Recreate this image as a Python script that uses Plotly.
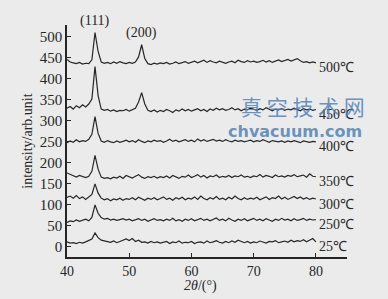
import plotly.graph_objects as go

two_theta = [40 + 0.5 * i for i in range(81)]

labels = ["25℃", "250℃", "300℃", "350℃", "400℃", "450℃", "500℃"]

t25 = [12, 9, 10, 8, 11, 9, 12, 15, 19, 33,
       22, 16, 14, 12, 11, 14, 10, 13, 16, 19,
       15, 20, 13, 16, 11, 12, 9, 13, 10, 12,
       9, 11, 13, 8, 12, 10, 14, 9, 11, 10,
       13, 8, 11, 12, 9, 14, 10, 12, 15, 11,
       9, 13, 10, 14, 11, 16, 12, 10, 13, 9,
       12, 10, 14, 11, 9, 13, 12, 15, 10, 12,
       14, 11, 16, 12, 15, 13, 17, 12, 16, 20,
       12]
t250 = [58, 62, 60, 64, 61, 63, 66, 62, 70, 100,
        80, 70, 66, 68, 64, 66, 63, 65, 67, 64,
        66, 62, 65, 67, 63, 66, 61, 64, 67, 63,
        65, 62, 66, 63, 68, 62, 65, 61, 66, 63,
        67, 62, 65, 68, 63, 66, 62, 65, 69, 63,
        66, 62, 68, 64, 61, 66, 63, 67, 62, 65,
        68, 63, 66, 62, 67, 64, 61, 66, 63, 68,
        64, 66, 62, 67, 63, 65, 68, 63, 66, 64,
        65]
t300 = [118, 121, 116, 122, 115, 119, 113, 118, 125, 150,
        128, 116, 112, 115, 110, 114, 112, 116, 111, 115,
        113, 117, 112, 118, 114, 111, 116, 113, 117, 112,
        115, 119, 113, 116, 111, 117, 114, 118, 112, 116,
        114, 119, 113, 121, 115, 112, 117, 114, 120, 113,
        116, 112, 118, 114, 121, 115, 112, 117, 113, 116,
        114, 118, 112, 116, 119, 113, 117, 115, 121, 114,
        118, 113, 116, 120, 115, 119, 114, 117, 113, 116,
        114]
t350 = [176, 172, 168, 166, 170, 167, 165, 168, 180, 218,
        185, 166, 163, 165, 162, 166, 164, 168, 163, 170,
        166, 164, 168, 172, 166, 163, 167, 165, 168, 164,
        167, 165, 169, 164, 170, 166, 163, 168, 166, 171,
        165, 168, 172, 166, 170, 164, 169, 167, 171, 165,
        168, 166, 170, 165, 169, 167, 171, 166, 168, 165,
        169, 167, 172, 166, 170, 168, 165, 171, 167, 169,
        166, 170, 168, 172, 167, 169, 171, 166, 174, 168,
        167]
t400 = [248, 252, 249, 255, 250, 253, 251, 256, 268, 310,
        270, 252, 249, 253, 250, 248, 252, 249, 251, 254,
        250, 253, 249, 255, 251, 248, 252, 250, 254, 251,
        253, 249, 252, 256, 251, 254, 250, 253, 255, 251,
        254, 250, 257, 252, 255, 251, 253, 256, 252, 254,
        251, 255, 252, 250, 254, 251, 253, 250, 252, 254,
        250, 253, 251, 255, 252, 249, 253, 251, 250, 252,
        249, 252, 250, 253, 251, 248, 252, 250, 249, 251,
        250]
t450 = [330, 334, 328, 336, 331, 338, 333, 340, 352, 429,
        360, 328, 325, 327, 323, 326, 322, 325, 324, 327,
        323, 326, 330, 345, 367, 340, 325, 322, 326, 321,
        325, 322, 327, 324, 320, 326, 323, 328, 324, 327,
        323, 326, 329, 324, 327, 322, 328, 325, 330, 326,
        329, 325, 327, 331, 326, 329, 324, 328, 326, 330,
        327, 325, 329, 326, 331, 327, 324, 328, 326, 329,
        325, 328, 326, 330, 327, 324, 329, 326, 328, 325,
        327]
t500 = [446, 440, 438, 436, 439, 435, 437, 436, 445, 510,
        465, 440, 437, 439, 436, 440, 437, 441, 438, 436,
        439, 437, 440, 452, 481, 448, 436, 434, 437, 435,
        438, 436, 439, 435, 437, 440, 436, 438, 441, 437,
        440, 442, 438, 441, 444, 439, 443, 440, 438, 442,
        439, 437, 440, 442, 438, 444, 441, 439, 443, 440,
        442, 439, 441, 444, 440, 443, 439, 442, 445, 441,
        443, 446, 442, 445, 448, 443, 439, 441, 438, 440,
        438]

series = [t25, t250, t300, t350, t400, t450, t500]

x_ticks = [40, 50, 60, 70, 80]
y_ticks = [0, 50, 100, 150, 200, 250, 300, 350, 400, 450, 500]

FONT = "Liberation Serif, Times New Roman, serif"
INK = "#262626"

fig = go.Figure()
for name, ys in zip(labels, series):
    fig.add_trace(go.Scatter(x=two_theta, y=ys, mode="lines", name=name,
                             line=dict(color=INK, width=1.2), showlegend=False))

for name, ys in zip(labels, series):
    fig.add_annotation(x=two_theta[-1], y=ys[-1], text=name, showarrow=False,
                       xanchor="left", yanchor="middle", xshift=1, yshift=-5,
                       font=dict(family=FONT, size=14, color=INK))

fig.add_annotation(x=44.5, y=510, text="(111)", showarrow=False, yanchor="bottom",
                   yshift=2, font=dict(family=FONT, size=14, color=INK))
fig.add_annotation(x=52.0, y=481, text="(200)", showarrow=False, yanchor="bottom",
                   yshift=2, font=dict(family=FONT, size=14, color=INK))

# x-axis title placed close under the tick labels
fig.add_annotation(xref="paper", yref="paper", x=0.475, y=-0.125, text="<i>2θ</i>/(°)",
                   showarrow=False, xanchor="center", yanchor="middle",
                   font=dict(family=FONT, size=14, color=INK))

# watermark
fig.add_annotation(xref="paper", yref="paper", x=1.07, y=0.652, text="真 空 技 术 网",
                   showarrow=False, xanchor="right", yanchor="middle",
                   font=dict(family="Noto Sans CJK SC", size=21, color="rgba(80,130,185,0.85)"))
fig.add_annotation(xref="paper", yref="paper", x=1.06, y=0.542, text="<b>chvacuum.com</b>",
                   showarrow=False, xanchor="right", yanchor="middle",
                   font=dict(family="DejaVu Sans", size=16, color="rgba(80,130,185,0.85)"))

fig.update_layout(
    width=388, height=299,
    margin=dict(l=67, r=41, t=25, b=42),
    paper_bgcolor="#ebebeb", plot_bgcolor="#ebebeb",
    font=dict(family=FONT, size=15, color=INK),
)
fig.update_xaxes(range=[40, 85], tickvals=x_ticks, ticks="inside", ticklen=4,
                 tickcolor=INK, showline=True, linecolor=INK, linewidth=1.6,
                 showgrid=False, zeroline=False, mirror=False,
                 tickfont=dict(family=FONT, size=14, color=INK))
fig.update_yaxes(range=[-24, 528], tickvals=y_ticks, ticks="inside", ticklen=4,
                 tickcolor=INK, showline=True, linecolor=INK, linewidth=1.6,
                 showgrid=False, zeroline=False, mirror=False,
                 tickfont=dict(family=FONT, size=15, color=INK),
                 title=dict(text="intensity/arb.unit", standoff=4,
                            font=dict(family=FONT, size=14, color=INK)))

fig.write_html("out.html")
